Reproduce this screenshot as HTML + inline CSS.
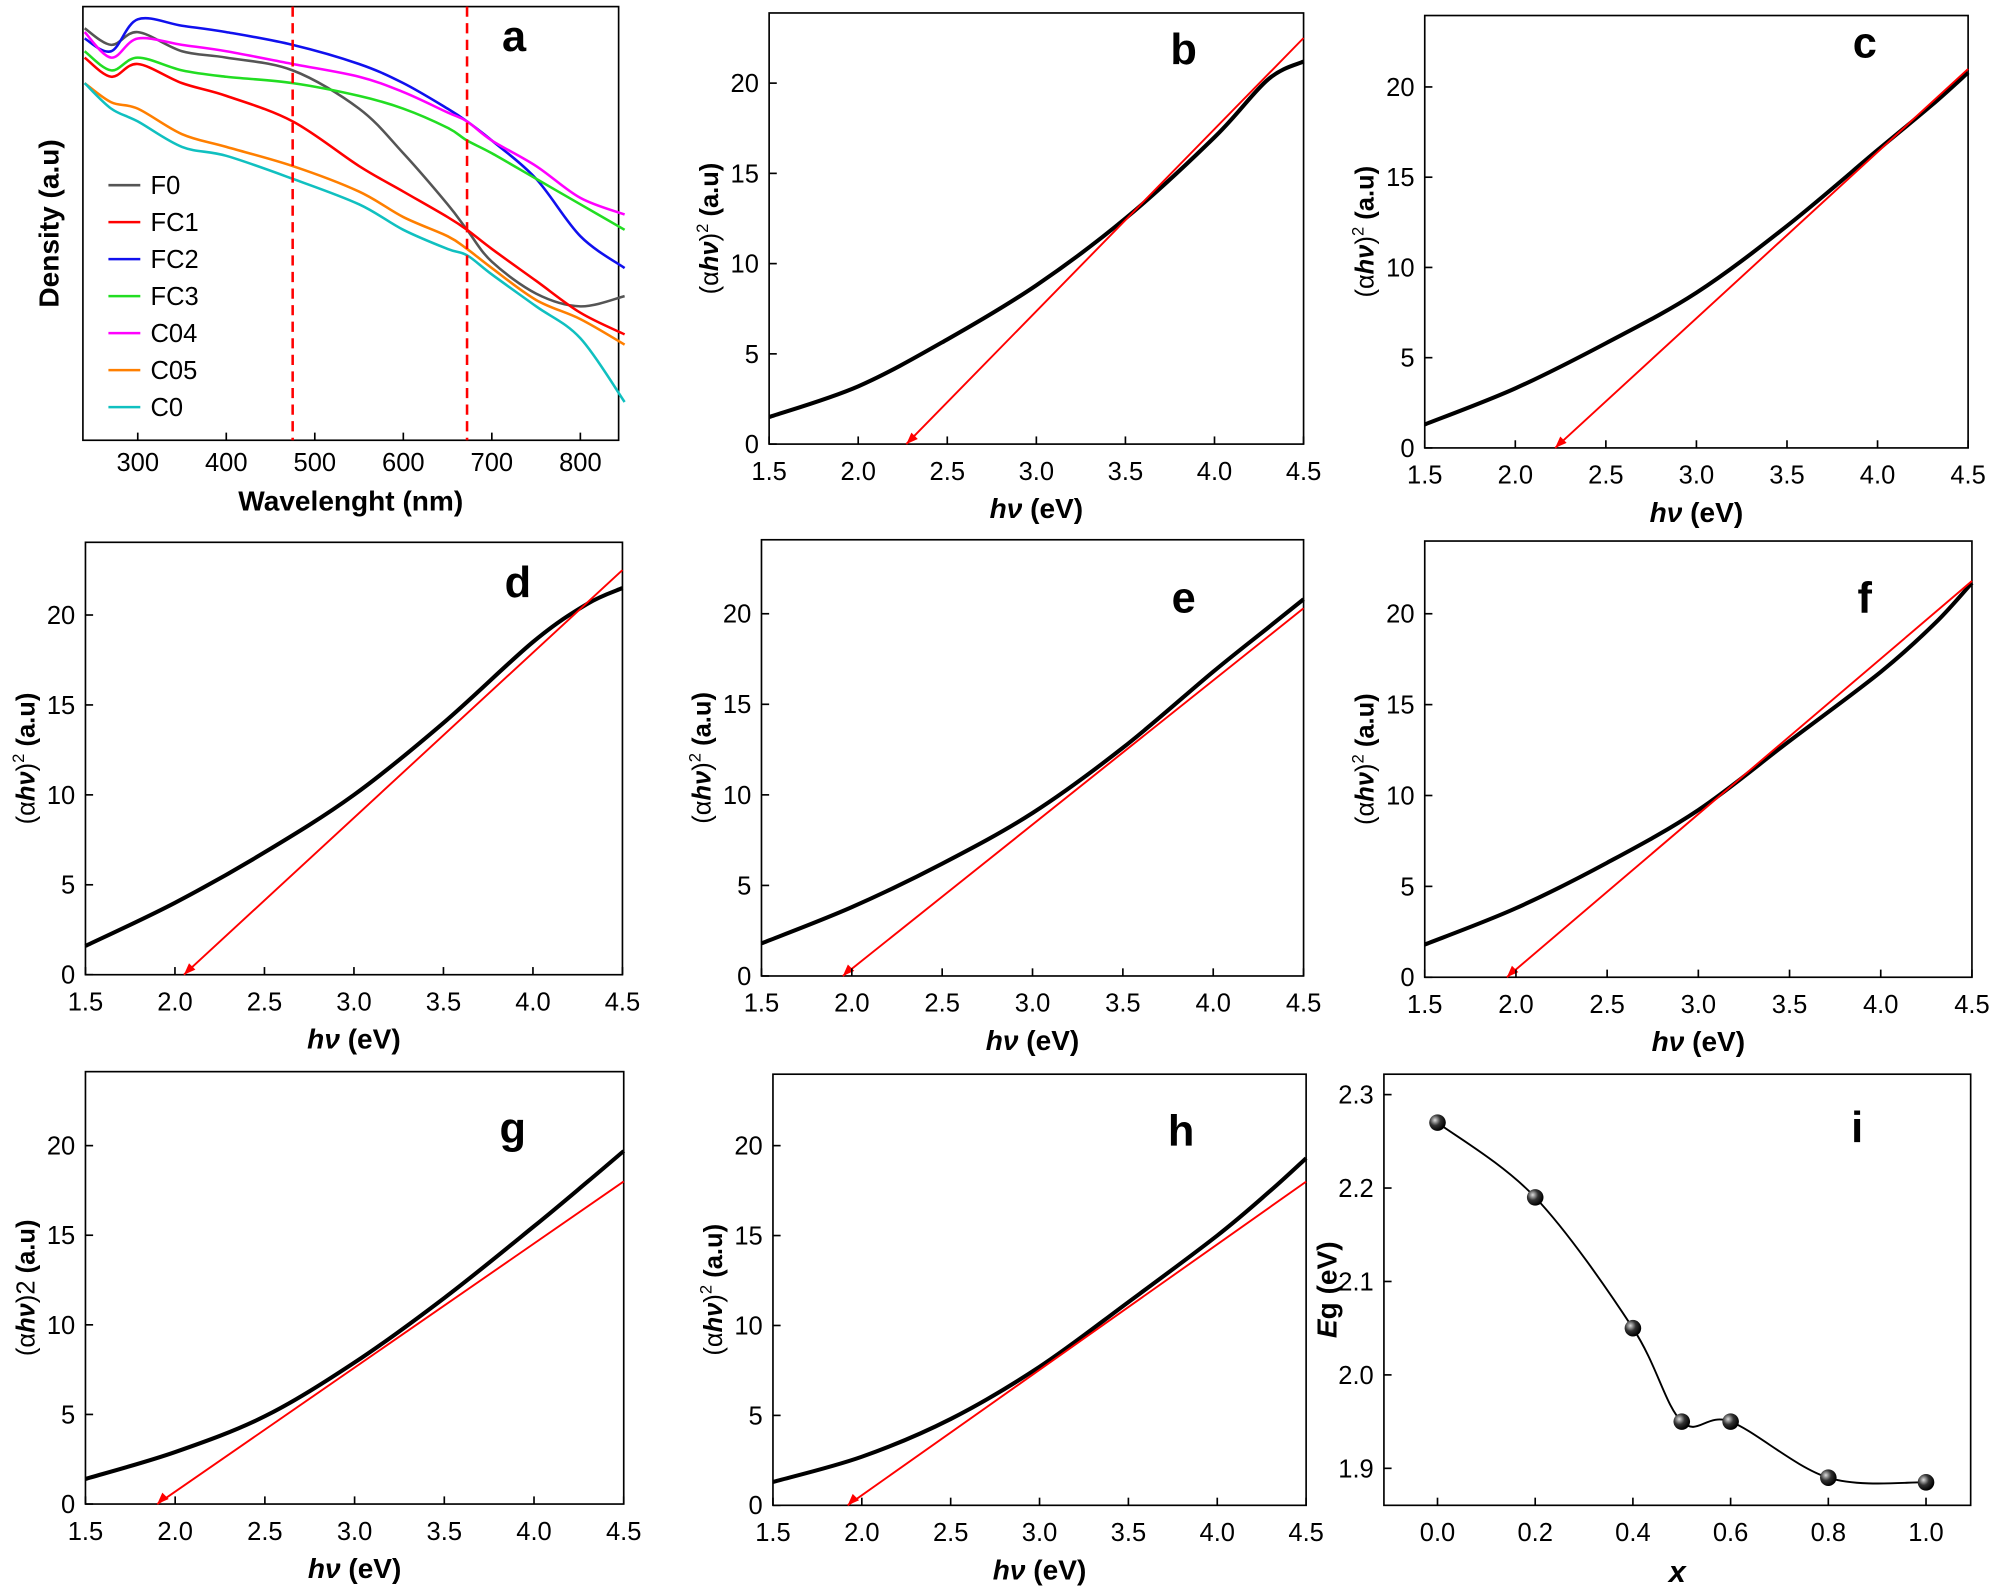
<!DOCTYPE html>
<html><head><meta charset="utf-8"><style>
html,body{margin:0;padding:0;background:#fff}
svg{display:block}
text{font-family:"Liberation Sans",Arial,sans-serif}
</style></head><body>
<svg id="fig" width="2000" height="1591" viewBox="0 0 1568 1247" xmlns="http://www.w3.org/2000/svg"></svg>
<script>
// ---- Panel a data ----
const wavelengths=[240,270,300,350,400,475,550,600,650,672,700,750,800,850];
const seriesNames=["F0","FC1","FC2","FC3","C04","C05","C0"];
const seriesColors=["#555555","#ff0000","#1010ee","#22dd22","#ff00ff","#ff7f00","#10c0c0"];
const dF0=[323,310,320,305,300,290,260,225,185,165,140,115,105,113];
const dFC1=[300,285,295,280,270,250,215,195,175,165,150,125,100,83];
const dFC2=[315,305,330,325,320,310,295,280,260,250,235,205,160,135];
const dFC3=[305,290,300,290,285,280,270,260,245,235,225,205,185,165];
const dC04=[320,300,315,310,305,295,285,273,257,250,235,215,190,177];
const dC05=[280,265,260,240,230,215,195,175,160,150,135,110,95,75];
const dC0=[280,260,250,230,223,205,185,165,150,145,130,105,80,30];
const markerLines=[475,672];
const aTicks=[300,400,500,600,700,800];
// ---- Tauc panels ----
const hvX=[1.5,2.0,2.5,3.0,3.5,4.0,4.3,4.5];
const tB=[1.5,3.2,5.8,8.8,12.5,17.0,20.2,21.2];
const tC=[1.3,3.3,5.8,8.6,12.3,16.5,19.0,20.8];
const tD=[1.6,4.0,6.8,10.0,14.0,18.5,20.6,21.5];
const tE=[1.8,3.8,6.2,9.0,12.6,16.8,19.2,20.8];
const tF=[1.8,3.8,6.3,9.2,13.0,16.8,19.5,21.7];
const tG=[1.4,2.9,4.9,7.9,11.5,15.5,18.0,19.7];
const tH=[1.3,2.7,4.8,7.7,11.3,15.0,17.5,19.3];
const gaps=[2.27,2.22,2.05,1.95,1.95,1.90,1.92];
const fitEnd=[22.5,21.0,22.5,20.3,21.8,18.0,18.0];
const hvTicks=[1.5,2.0,2.5,3.0,3.5,4.0,4.5];
const yTicks=[0,5,10,15,20];
// ---- Panel i ----
const xComp=[0,0.2,0.4,0.5,0.6,0.8,1.0];
const egVals=[2.27,2.19,2.05,1.95,1.95,1.89,1.885];
const iXTicks=[0,0.2,0.4,0.6,0.8,1.0];
const iYTicks=[1.9,2.0,2.1,2.2,2.3];

const NS="http://www.w3.org/2000/svg";
const svg=document.getElementById('fig');
function el(tag,attrs,parent){const e=document.createElementNS(NS,tag);for(const k in attrs)e.setAttribute(k,attrs[k]);(parent||svg).appendChild(e);return e;}
function txt(s,x,y,attrs,parent){const t=el('text',Object.assign({x:x,y:y},attrs),parent);t.textContent=s;return t;}
function lin(d0,d1,r0,r1){return v=>r0+(v-d0)/(d1-d0)*(r1-r0);}
function smoothPath(pts){let d="M"+pts[0][0]+","+pts[0][1];for(let i=0;i<pts.length-1;i++){const p0=pts[Math.max(0,i-1)],p1=pts[i],p2=pts[i+1],p3=pts[Math.min(pts.length-1,i+2)];const c1=[p1[0]+(p2[0]-p0[0])/6,p1[1]+(p2[1]-p0[1])/6],c2=[p2[0]-(p3[0]-p1[0])/6,p2[1]-(p3[1]-p1[1])/6];d+=" C"+c1+" "+c2+" "+p2;}return d;}

function box(g,x0,x1,y0,y1){const r=el('rect',{x:x0,y:y0,width:x1-x0,height:y1-y0,fill:'none',stroke:'#000','stroke-width':1.3},g);}

// Panel a
(function(){
 const g=el('g',{});
 const X0=65,X1=485,Y0=5,Y1=345;
 const sx=lin(300,800,108,455),sy=lin(0,340,345,5);
 box(g,X0,X1,Y0,Y1);
 const data=[dF0,dFC1,dFC2,dFC3,dC04,dC05,dC0];
 data.forEach((arr,k)=>{const p=el('path',{d:smoothPath(arr.map((v,i)=>[sx(wavelengths[i]),sy(v)])),fill:'none',stroke:seriesColors[k],'stroke-width':2},g);
  });
 markerLines.forEach(w=>{const l=el('line',{x1:sx(w),x2:sx(w),y1:Y0,y2:Y1,stroke:'#ff0000','stroke-width':2,'stroke-dasharray':'8,5'},g);});
 aTicks.forEach(t=>{el('line',{x1:sx(t),x2:sx(t),y1:Y1,y2:Y1-6,stroke:'#000','stroke-width':1.3},g);const tt=txt(t,sx(t),Y1+24,{'font-size':20,'text-anchor':'middle'},g);});
 const xt=txt('Wavelenght (nm)',(X0+X1)/2,Y1+55,{'font-size':22,'font-weight':'bold','text-anchor':'middle'},g);
 const yt=txt('Density (a.u)',0,0,{'font-size':22,'font-weight':'bold','text-anchor':'middle',transform:'translate(46,175) rotate(-90)'},g);
 seriesNames.forEach((n,k)=>{const y=145+k*29;const lg=el('g',{},g);
  el('line',{x1:85,x2:110,y1:y,y2:y,stroke:seriesColors[k],'stroke-width':2},lg);txt(n,118,y+7,{'font-size':20},lg);});
 const L=txt('a',403,40,{'font-size':34,'font-weight':'bold','text-anchor':'middle'},g);
})();

// Tauc panels
const tauc=[
 {n:'b',d:tB,x0:603,x1:1022,y0:10,y1:348,y20:65,lx:928,ly:50,yl:'sup'},
 {n:'c',d:tC,x0:1117,x1:1543,y0:12,y1:351,y20:68,lx:1462,ly:45,yl:'sup'},
 {n:'d',d:tD,x0:67,x1:488,y0:425,y1:764,y20:482,lx:406,ly:468,yl:'sup'},
 {n:'e',d:tE,x0:597,x1:1022,y0:423,y1:765,y20:481,lx:928,ly:480,yl:'sup'},
 {n:'f',d:tF,x0:1117,x1:1546,y0:424,y1:766,y20:481,lx:1462,ly:480,yl:'sup'},
 {n:'g',d:tG,x0:67,x1:489,y0:840,y1:1179,y20:898,lx:402,ly:896,yl:'plain'},
 {n:'h',d:tH,x0:606,x1:1024,y0:842,y1:1180,y20:898,lx:926,ly:898,yl:'sup'}];
tauc.forEach((P,k)=>{
 const g=el('g',{});
 const sx=lin(1.5,4.5,P.x0,P.x1),sy=lin(0,20,P.y1,P.y20);
 box(g,P.x0,P.x1,P.y0,P.y1);
 const c=el('path',{d:smoothPath(P.d.map((v,i)=>[sx(hvX[i]),sy(v)])),fill:'none',stroke:'#000','stroke-width':3.2},g);
 const f=el('line',{x1:sx(gaps[k]),y1:sy(0),x2:sx(4.5),y2:sy(fitEnd[k]),stroke:'#ff0000','stroke-width':1.5},g);
 el('path',{d:`M${sx(gaps[k])},${sy(0)} l4,-9 l5,5 z`,fill:'#ff0000'},g);
 hvTicks.forEach(t=>{el('line',{x1:sx(t),x2:sx(t),y1:P.y1,y2:P.y1-6,stroke:'#000','stroke-width':1.3},g);const tt=txt(t.toFixed(1),sx(t),P.y1+28,{'font-size':20,'text-anchor':'middle'},g);});
 yTicks.forEach(t=>{el('line',{x1:P.x0,x2:P.x0+6,y1:sy(t),y2:sy(t),stroke:'#000','stroke-width':1.3},g);const tt=txt(t,P.x0-8,sy(t)+7,{'font-size':20,'text-anchor':'end'},g);});
 const xt=txt('',(P.x0+P.x1)/2,P.y1+58,{'font-size':22,'font-weight':'bold','text-anchor':'middle'},g);
 xt.innerHTML='<tspan font-style="italic">hν</tspan> (eV)';
 const yt=txt('',0,0,{'font-size':20,'text-anchor':'middle',transform:`translate(${P.x0-40},${(P.y0+P.y1)/2}) rotate(-90)`},g);
 yt.innerHTML=P.yl==='sup'?'(α<tspan font-style="italic" font-weight="bold">hν</tspan>)<tspan dy="-8" font-size="13">2</tspan><tspan dy="8" font-weight="bold"> (a.u)</tspan>':'(α<tspan font-style="italic" font-weight="bold">hν</tspan>)2<tspan font-weight="bold"> (a.u)</tspan>';
 
 const L=txt(P.n,P.lx,P.ly,{'font-size':34,'font-weight':'bold','text-anchor':'middle'},g);
});

// Panel i
(function(){
 const g=el('g',{});
 const X0=1085,X1=1545,Y0=842,Y1=1180;
 const sx=lin(0,1,1127,1510),sy=lin(1.9,2.3,1151,858);
 box(g,X0,X1,Y0,Y1);
 const c=el('path',{d:smoothPath(xComp.map((v,i)=>[sx(v),sy(egVals[i])])),fill:'none',stroke:'#000','stroke-width':1.5},g);
 const defs=el('defs',{});const rg=el('radialGradient',{id:'ball',cx:'35%',cy:'35%',r:'65%'},defs);el('stop',{offset:'0','stop-color':'#ddd'},rg);el('stop',{offset:'0.5','stop-color':'#333'},rg);el('stop',{offset:'1','stop-color':'#000'},rg);
 xComp.forEach((v,i)=>{const p=el('circle',{cx:sx(v),cy:sy(egVals[i]),r:6.5,fill:'url(#ball)'},g);});
 iXTicks.forEach(t=>{el('line',{x1:sx(t),x2:sx(t),y1:Y1,y2:Y1-6,stroke:'#000','stroke-width':1.3},g);const tt=txt(t.toFixed(1),sx(t),Y1+28,{'font-size':20,'text-anchor':'middle'},g);});
 iYTicks.forEach(t=>{el('line',{x1:X0,x2:X0+6,y1:sy(t),y2:sy(t),stroke:'#000','stroke-width':1.3},g);const tt=txt(t.toFixed(1),X0-8,sy(t)+7,{'font-size':20,'text-anchor':'end'},g);});
 const xt=txt('x',(X0+X1)/2,Y1+60,{'font-size':24,'font-weight':'bold','font-style':'italic','text-anchor':'middle'},g);
 const yt=txt('',0,0,{'font-size':22,'font-weight':'bold','text-anchor':'middle',transform:`translate(1048,${(Y0+Y1)/2}) rotate(-90)`},g);yt.innerHTML='<tspan font-style="italic">E</tspan>g (eV)';
 const L=txt('i',1456,895,{'font-size':34,'font-weight':'bold','text-anchor':'middle'},g);
})();
</script>
</body></html>
